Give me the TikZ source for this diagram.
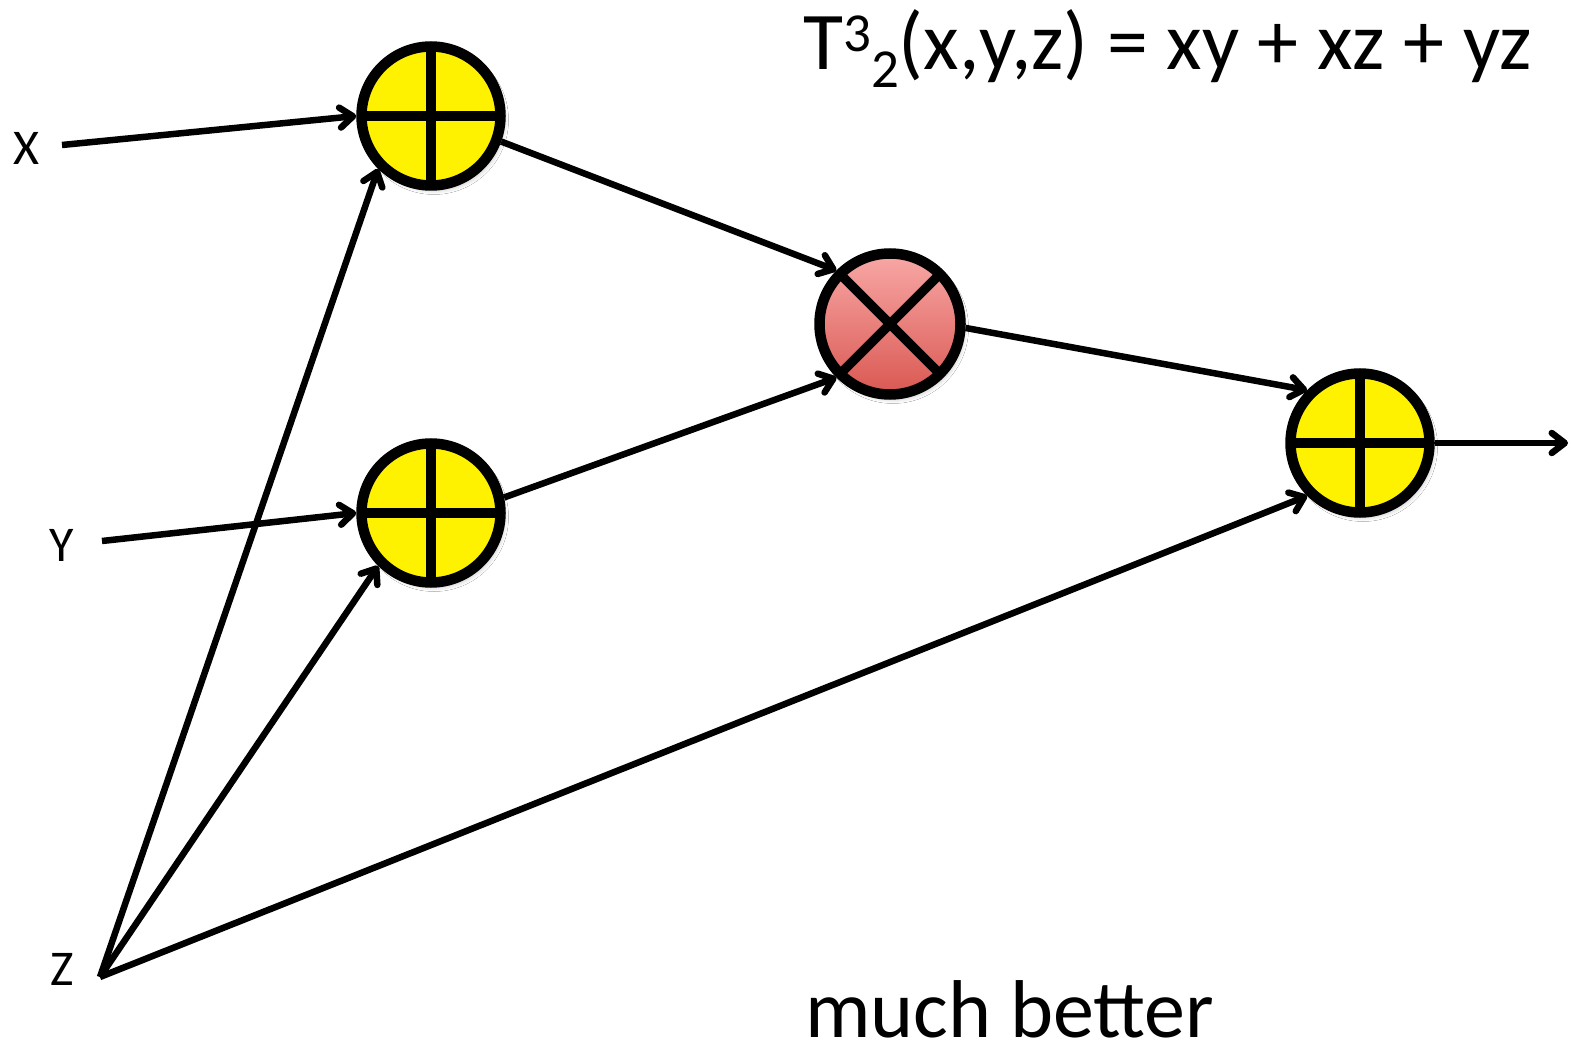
\documentclass[tikz,border=0pt]{standalone}
\usepackage{fontspec}
\setmainfont{Carlito}
\usetikzlibrary{arrows.meta,shadows.blur}
\definecolor{pinktop}{RGB}{248,168,166}
\definecolor{pinkbot}{RGB}{218,88,82}
\tikzset{
  conn/.style={line width=6.5pt, -{Straight Barb[length=13pt,width=20pt,round]}},
  softshadow/.style={blur shadow={shadow xshift=3pt, shadow yshift=-4pt, shadow blur radius=5pt, shadow opacity=30}},
  plusnode/.style={circle, draw, line width=10.5pt, fill=yellow, minimum size=139pt, inner sep=0pt, softshadow,
    path picture={\draw[line width=9.5pt] (path picture bounding box.north) -- (path picture bounding box.south)
      (path picture bounding box.west) -- (path picture bounding box.east);}},
  timesnode/.style={circle, draw, line width=10.5pt, top color=pinktop, bottom color=pinkbot, minimum size=141pt, inner sep=0pt, softshadow,
    path picture={\draw[line width=9.5pt] (path picture bounding box.north west) -- (path picture bounding box.south east)
      (path picture bounding box.north east) -- (path picture bounding box.south west);}},
  lbl/.style={font=\fontsize{50}{60}\selectfont, inner sep=0pt},
  big/.style={font=\fontsize{82}{98}\selectfont, inner sep=0pt},
}
\begin{document}
\begin{tikzpicture}[x=1pt,y=-1pt]
\useasboundingbox[fill=white] (0,0) rectangle (1571,1048);

\node[plusnode] (p1) at (431,116) {};
\node[plusnode] (p2) at (431,513) {};
\node[timesnode] (m) at (890,324) {};
\node[plusnode] (p3) at (1360,443) {};

\node[lbl] (lx) at (26,148) {X};
\node[lbl] (ly) at (62,545) {Y};
\node[lbl] (lz) at (62,969) {Z};

\coordinate (xs) at (62,145);
\coordinate (ys) at (102,541);
\coordinate (zs) at (100,977);
\coordinate (out) at (1568,443);

\draw[conn] (xs) -- (p1.west);
\draw[conn] (ys) -- (p2.west);
\draw[conn] (zs) -- (p1.south west);
\draw[conn] (zs) -- (p2.south west);
\draw[conn] (zs) -- (p3.south west);
\draw[conn] (p1.-20) -- (m.north west);
\draw[conn] (p2.12) -- (m.south west);
\draw[conn] (m.-3) -- (p3.north west);
\draw[conn] (p3.east) -- (out);

\node[big, anchor=base west] (title) at (803,70)
  {T\raisebox{18pt}{\fontsize{55}{60}\selectfont 3}\raisebox{-18pt}{\fontsize{55}{60}\selectfont 2}(x,y,z) = xy + xz + yz};
\node[big, anchor=base west] (mb) at (805,1037) {much better};
\end{tikzpicture}
\end{document}
